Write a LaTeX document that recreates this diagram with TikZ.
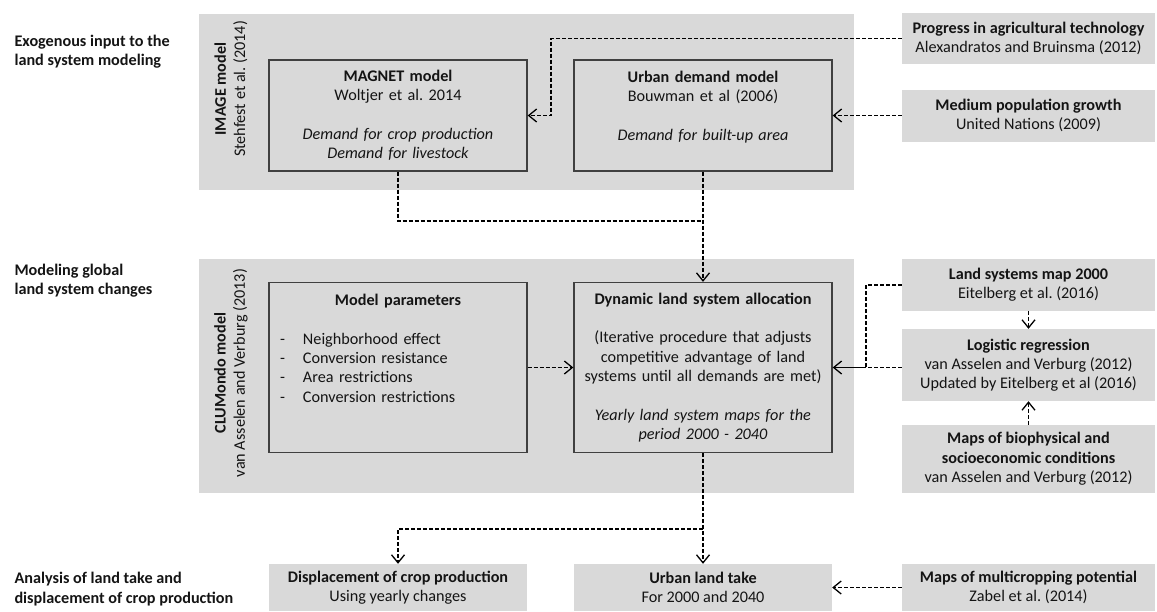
\documentclass[tikz,border=0pt]{standalone}
\usepackage{fontspec}
\setmainfont{Carlito}
\usepackage{tikz}
\usetikzlibrary{positioning, arrows.meta}
\definecolor{panelgray}{RGB}{217, 217, 217}
\definecolor{boxline}{RGB}{64, 64, 64}
\definecolor{inkblack}{RGB}{20, 20, 20}
\frenchspacing

\begin{document}
\begin{tikzpicture}[x=1pt, y=-1pt,
    font=\fontsize{16.2}{19.3}\selectfont, text=inkblack,
    panel/.style={fill=panelgray, minimum width=655, inner sep=0},
    mbox/.style={draw=boxline, fill=panelgray, line width=1.3pt, minimum width=258,
                 minimum height=111, text width=256, inner sep=0, align=center},
    ibox/.style={fill=panelgray, minimum width=253, inner sep=0, align=center},
    lvl/.style={anchor=west, align=left, font=\fontsize{16.2}{19.3}\selectfont\bfseries},
    side/.style={rotate=90, align=center},
    dline/.style={line width=1.3pt, dash pattern=on 4pt off 2pt},
    darr/.style={dline, -{Straight Barb[length=8pt, width=13pt]}},
    sarr/.style={line width=1.3pt, -{Straight Barb[length=8pt, width=13pt]}}
  ]
  \useasboundingbox (0,0) rectangle (1157,611);

  % level labels
  \node[lvl] (lab1) at (11,52) {Exogenous input to the\\land system modeling};
  \node[lvl] (lab2) at (11,281) {Modeling global\\land system changes};
  \node[lvl] (lab3) at (11,589) {Analysis of land take and\\displacement of crop production};

  % panels
  \node[panel, minimum height=176] (image) at (526.5,102) {};
  \node[panel, minimum height=234] (clum) at (526.5,376) {};
  \node[side] (imgname) at (231,89) {\textbf{IMAGE model}\\Stehfest et al. (2014)};
  \node[side] (cluname) at (231,373) {\textbf{CLUMondo model}\\van Asselen and Verburg (2013)};

  % model boxes
  \node[mbox] (magnet) at (398,115.5) {\textbf{MAGNET model}\\Woltjer et al. 2014\\[\baselineskip]
    \textit{Demand for crop production}\\\textit{Demand for livestock}};
  \node[mbox] (urban) at (703,115.5) {\textbf{Urban demand model}\\Bouwman et al (2006)\\[\baselineskip]
    \textit{Demand for built-up area}\\\mbox{}};
  \node[mbox, minimum height=170, align=left] (params) at (398,367.5) {%
    \makebox[256pt]{\textbf{Model parameters}}\\[\baselineskip]
    \hspace*{10pt}\makebox[23pt][l]{-}Neighborhood effect\\
    \hspace*{10pt}\makebox[23pt][l]{-}Conversion resistance\\
    \hspace*{10pt}\makebox[23pt][l]{-}Area restrictions\\
    \hspace*{10pt}\makebox[23pt][l]{-}Conversion restrictions\\\mbox{}\\\mbox{}};
  \node[mbox, minimum height=170] (dyn) at (703,367.5) {\textbf{Dynamic land system allocation}\\[\baselineskip]
    (Iterative procedure that adjusts\\competitive advantage of land\\systems until all demands are met)\\[\baselineskip]
    \textit{Yearly land system maps for the}\\\textit{period 2000 - 2040}};

  % input boxes
  \node[ibox, minimum height=51] (prog) at (1028.5,38.5) {\textbf{Progress in agricultural technology}\\Alexandratos and Bruinsma (2012)};
  \node[ibox, minimum height=52] (med) at (1028.5,115.5) {\textbf{Medium population growth}\\United Nations (2009)};
  \node[ibox, minimum height=52] (land) at (1028.5,285) {\textbf{Land systems map 2000}\\Eitelberg et al. (2016)};
  \node[ibox, minimum height=72] (logit) at (1028.5,365) {\textbf{Logistic regression}\\van Asselen and Verburg (2012)\\Updated by Eitelberg et al (2016)};
  \node[ibox, minimum height=68] (bio) at (1028.5,459) {\textbf{Maps of biophysical and}\\\textbf{socioeconomic conditions}\\van Asselen and Verburg (2012)};

  % output boxes
  \node[ibox, minimum width=258, minimum height=47] (disp) at (398,587.5) {\textbf{Displacement of crop production}\\Using yearly changes};
  \node[ibox, minimum width=258, minimum height=47] (take) at (703,587.5) {\textbf{Urban land take}\\For 2000 and 2040};
  \node[ibox, minimum height=47] (multi) at (1028.5,587.5) {\textbf{Maps of multicropping potential}\\Zabel et al. (2014)};

  % connectors
  \coordinate (kn) at (551,115.5);
  \coordinate (mid) at (703,221);
  \coordinate (jn) at (866,367.5);
  \coordinate (split) at (703,529);
  \draw[darr] (prog.west) -| (kn) -- (magnet.east);
  \draw[darr] (med.west) -- (urban.east);
  \draw[dline] (magnet.south) |- (mid);
  \draw[darr] (urban.south) -- (dyn.north);
  \draw[darr] (params.east) -- (dyn.west);
  \draw[dline] (land.west) -| (jn);
  \draw[dline] (logit.west |- jn) -- (jn);
  \draw[sarr] (jn) -- (dyn.east);
  \draw[darr] (land.south) -- (logit.north);
  \draw[darr] (bio.north) -- (logit.south);
  \draw[darr] (dyn.south) -- (take.north);
  \draw[darr] (split) -| (disp.north);
  \draw[darr] (multi.west) -- (take.east);
\end{tikzpicture}
\end{document}
